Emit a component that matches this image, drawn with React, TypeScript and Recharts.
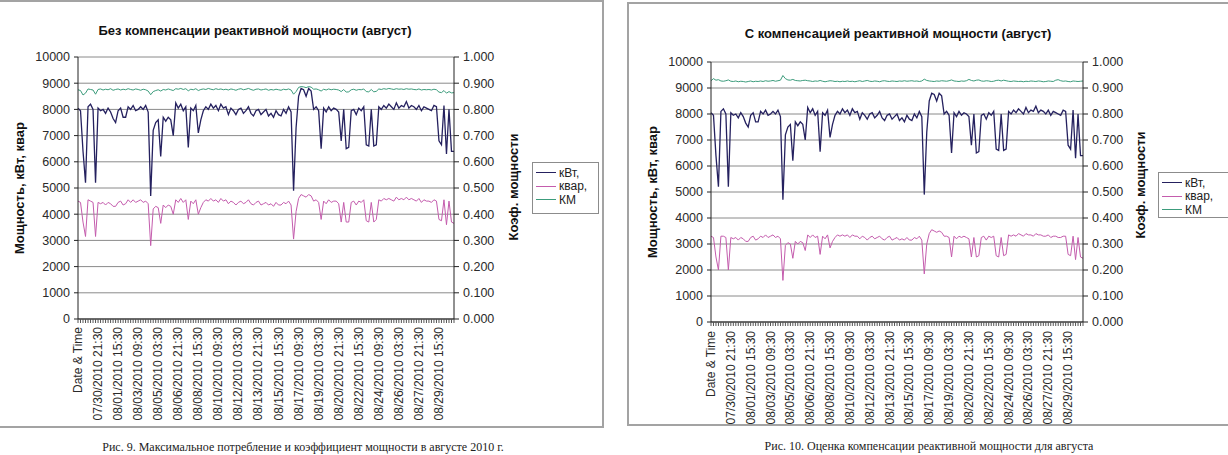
import React from 'react';
import { LineChart, Line, XAxis, YAxis, CartesianGrid } from 'recharts';

// date labels shown every STEP points on the category axis
const tickLabels = [
  'Date & Time', '07/30/2010 21:30', '08/01/2010 15:30', '08/03/2010 09:30', '08/05/2010 03:30',
  '08/06/2010 21:30', '08/08/2010 15:30', '08/10/2010 09:30', '08/12/2010 03:30', '08/13/2010 21:30',
  '08/15/2010 15:30', '08/17/2010 09:30', '08/19/2010 03:30', '08/20/2010 21:30', '08/22/2010 15:30',
  '08/24/2010 09:30', '08/26/2010 03:30', '08/27/2010 21:30', '08/29/2010 15:30',
];
const STEP = 8;

// active power, kW (same in both figures)
const kw = [
  8050, 7950, 6400, 5200, 8100, 8200, 8000, 5200, 8050, 7950,
  8000, 7850, 8050, 7900, 7650, 7500, 7950, 8050, 7700, 7700,
  8100, 8000, 8150, 7950, 8000, 8100, 8000, 8150, 7900, 4700,
  7200, 7500, 7600, 6200, 7700, 7550, 7700, 7600, 7000, 8250,
  8050, 8200, 7950, 8100, 6550, 8050, 7950, 8150, 7100, 7600,
  7950, 8100, 8000, 8200, 8050, 8150, 7950, 8200, 8050, 8100,
  7800, 8050, 7950, 7800, 8000, 8050, 7850, 7950, 8100, 7850,
  7750, 7950, 8000, 7800, 7900, 8000, 7750, 7850, 7700, 7950,
  7800, 7750, 8000, 7850, 8100, 7900, 4900, 7300, 8500, 8800,
  8750, 8500, 8800, 8700, 8000, 8100, 7950, 6500, 8050, 7900,
  8100, 7950, 8050, 8000, 7900, 6800, 8000, 6500, 6550, 7950,
  8000, 7800, 8050, 7950, 8100, 6650, 6600, 8000, 6600, 6650,
  8100, 8000, 8150, 8050, 8200, 8100, 8000, 8250, 8050, 8150,
  8100, 8300, 8050, 8150, 8100, 8000, 8150, 7950, 8100, 8050,
  8000, 7950, 8150, 8100, 6800, 6650, 8150, 6300, 8000, 6400,
  6400,
];

// reactive power without compensation, kvar
const kvarBefore = [
  4500, 4450, 3700, 3150, 4550, 4500, 4450, 3150, 4450, 4400,
  4450, 4350, 4450, 4400, 4300, 4300, 4450, 4500, 4350, 4400,
  4550, 4450, 4550, 4450, 4500, 4550, 4450, 4500, 4400, 2800,
  4200, 4300, 4250, 3650, 4350, 4250, 4350, 4300, 4000, 4550,
  4450, 4600, 4450, 4550, 3800, 4500, 4400, 4550, 4000, 4250,
  4450, 4550, 4500, 4600, 4500, 4550, 4450, 4600, 4500, 4550,
  4400, 4500, 4450, 4350, 4450, 4500, 4400, 4450, 4550, 4400,
  4350, 4450, 4500, 4350, 4400, 4450, 4350, 4400, 4300, 4450,
  4350, 4350, 4450, 4400, 4500, 4350, 3050, 4100, 4600, 4750,
  4700, 4650, 4750, 4700, 4500, 4550, 4450, 3800, 4500, 4400,
  4550, 4450, 4500, 4500, 4400, 3700, 4450, 3700, 3700, 4450,
  4500, 4350, 4500, 4450, 4550, 3750, 3700, 4450, 3700, 3800,
  4550, 4500, 4600, 4550, 4600, 4550, 4500, 4650, 4550, 4600,
  4550, 4650, 4550, 4600, 4550, 4500, 4600, 4450, 4550, 4500,
  4500, 4450, 4550, 4500, 3800, 3750, 4550, 3600, 4500, 3700,
  3650,
];

// power factor without compensation
const kmBefore = [
  0.875, 0.872, 0.855, 0.862, 0.878, 0.876, 0.874, 0.858, 0.876, 0.878,
  0.874, 0.877, 0.875, 0.879, 0.873, 0.876, 0.878, 0.874, 0.877, 0.875,
  0.879, 0.876, 0.874, 0.878, 0.876, 0.873, 0.877, 0.875, 0.870, 0.856,
  0.868, 0.872, 0.875, 0.870, 0.876, 0.874, 0.878, 0.875, 0.872, 0.879,
  0.877, 0.880, 0.876, 0.879, 0.871, 0.877, 0.875, 0.879, 0.872, 0.876,
  0.878, 0.876, 0.880, 0.877, 0.875, 0.879, 0.876, 0.878, 0.875, 0.877,
  0.874, 0.878, 0.876, 0.873, 0.877, 0.879, 0.875, 0.877, 0.880, 0.876,
  0.873, 0.877, 0.878, 0.874, 0.876, 0.878, 0.873, 0.876, 0.874, 0.877,
  0.875, 0.873, 0.877, 0.875, 0.878, 0.874, 0.858, 0.868, 0.884, 0.887,
  0.886, 0.883, 0.887, 0.885, 0.877, 0.878, 0.875, 0.870, 0.877, 0.874,
  0.878, 0.875, 0.877, 0.876, 0.874, 0.868, 0.876, 0.866, 0.867, 0.875,
  0.877, 0.873, 0.876, 0.875, 0.878, 0.868, 0.867, 0.876, 0.867, 0.869,
  0.878, 0.876, 0.879, 0.877, 0.880, 0.878, 0.876, 0.879, 0.877, 0.878,
  0.876, 0.879, 0.877, 0.878, 0.876, 0.875, 0.878, 0.874, 0.876, 0.875,
  0.876, 0.874, 0.877, 0.875, 0.866, 0.864, 0.872, 0.862, 0.868, 0.863,
  0.864,
];

// reactive power with compensation, kvar
const kvarAfter = [
  3300, 3250, 2500, 2000, 3300, 3300, 3250, 2000, 3250, 3200,
  3250, 3150, 3250, 3200, 3100, 3100, 3250, 3300, 3150, 3200,
  3300, 3250, 3350, 3250, 3300, 3350, 3250, 3300, 3200, 1600,
  2950, 3050, 3000, 2450, 3100, 3000, 3100, 3050, 2750, 3350,
  3250, 3350, 3250, 3300, 2600, 3300, 3200, 3350, 2850, 3100,
  3250, 3350, 3300, 3350, 3300, 3350, 3250, 3350, 3300, 3300,
  3200, 3300, 3250, 3150, 3250, 3300, 3200, 3250, 3300, 3200,
  3150, 3250, 3300, 3150, 3200, 3250, 3150, 3200, 3150, 3250,
  3150, 3150, 3250, 3200, 3300, 3150, 1850, 3000, 3400, 3550,
  3500, 3450, 3500, 3450, 3300, 3300, 3250, 2500, 3300, 3200,
  3300, 3250, 3300, 3250, 3200, 2500, 3250, 2500, 2550, 3250,
  3300, 3150, 3300, 3250, 3300, 2550, 2500, 3250, 2550, 2600,
  3350, 3300, 3350, 3300, 3400, 3350, 3300, 3400, 3350, 3350,
  3300, 3400, 3350, 3350, 3300, 3300, 3350, 3250, 3300, 3300,
  3250, 3250, 3300, 3300, 2600, 2550, 3300, 2400, 3250, 2500,
  2450,
];

// power factor with compensation
const kmAfter = [
  0.928, 0.936, 0.930, 0.932, 0.927, 0.926, 0.928, 0.931, 0.926, 0.925,
  0.927, 0.924, 0.926, 0.925, 0.923, 0.925, 0.927, 0.924, 0.926, 0.925,
  0.927, 0.925, 0.928, 0.926, 0.927, 0.929, 0.926, 0.928, 0.930, 0.948,
  0.936, 0.931, 0.930, 0.933, 0.929, 0.928, 0.927, 0.929, 0.930, 0.928,
  0.927, 0.925, 0.927, 0.926, 0.929, 0.926, 0.924, 0.926, 0.928, 0.927,
  0.925, 0.926, 0.924, 0.926, 0.925, 0.927, 0.925, 0.926, 0.924, 0.926,
  0.928, 0.925, 0.927, 0.929, 0.926, 0.925, 0.927, 0.926, 0.924, 0.927,
  0.928, 0.926, 0.925, 0.927, 0.926, 0.925, 0.927, 0.926, 0.928, 0.926,
  0.927, 0.928, 0.926, 0.927, 0.925, 0.927, 0.934, 0.929, 0.927, 0.926,
  0.925, 0.927, 0.926, 0.928, 0.927, 0.926, 0.928, 0.931, 0.927, 0.926,
  0.925, 0.927, 0.926, 0.928, 0.933, 0.929, 0.927, 0.930, 0.931, 0.927,
  0.926, 0.928, 0.927, 0.925, 0.926, 0.929, 0.930, 0.927, 0.930, 0.928,
  0.926, 0.925, 0.927, 0.926, 0.925, 0.926, 0.924, 0.926, 0.925, 0.927,
  0.926, 0.925, 0.927, 0.926, 0.924, 0.925, 0.927, 0.926, 0.925, 0.930,
  0.932, 0.928, 0.926, 0.927, 0.925, 0.924, 0.927, 0.926, 0.925, 0.926,
  0.927,
];

const powerTicks = [0, 1000, 2000, 3000, 4000, 5000, 6000, 7000, 8000, 9000, 10000];
const pfTicks = [0, 0.1, 0.2, 0.3, 0.4, 0.5, 0.6, 0.7, 0.8, 0.9, 1];

const SANS = '"Liberation Sans", Arial, sans-serif';
const SERIF = '"Liberation Serif", "Times New Roman", serif';

const series = [
  { key: 'kw', name: 'кВт,', color: '#25215f', width: 1.3 },
  { key: 'kvar', name: 'квар,', color: '#c45cad', width: 1 },
  { key: 'km', name: 'КМ', color: '#3c9c7c', width: 1 },
];

const allIdx = kw.map((_, i) => i);

const DateTick = (props: any) => {
  const { x, y, payload, shift } = props;
  const i = payload.value;
  if (i % STEP !== 0) return <g />;
  const ty = y + shift;
  return (
    <text
      x={x}
      y={ty}
      transform={`rotate(-90, ${x}, ${ty})`}
      textAnchor="end"
      dominantBaseline="central"
      fontSize={12}
      fontFamily={SANS}
      fill="#2a2a2a"
    >
      {tickLabels[i / STEP]}
    </text>
  );
};

const Vertical = ({ x, y, children, size = 13 }: any) => (
  <div
    style={{
      position: 'absolute', left: x, top: y, transform: 'translate(-50%, -50%) rotate(-90deg)',
      whiteSpace: 'nowrap', fontFamily: SANS, fontWeight: 'bold', fontSize: size, color: '#111',
    }}
  >
    {children}
  </div>
);

const LegendBox = ({ x, y, w, h }: any) => (
  <div
    style={{
      position: 'absolute', left: x, top: y, width: w, height: h, boxSizing: 'border-box',
      border: '1px solid #8c8c8c', background: '#fff', padding: '3px 0 0 3px',
      fontFamily: SANS, fontSize: 12, color: '#222',
    }}
  >
    {series.map((s) => (
      <div key={s.key} style={{ display: 'flex', alignItems: 'center', height: 13.5 }}>
        <span style={{ display: 'inline-block', width: 20, height: 0, borderTop: `1.5px solid ${s.color}`, marginRight: 3 }} />
        <span>{s.name}</span>
      </div>
    ))}
  </div>
);

const PowerChart = ({ cfg, kvar, km }: any) => {
  const data = kw.map((v, i) => ({ i, kw: v, kvar: kvar[i], km: km[i] }));
  return (
    <div style={{ position: 'absolute', left: cfg.left, top: cfg.top }}>
      <LineChart
        width={cfg.width}
        height={cfg.height}
        data={data}
        margin={{ top: cfg.mTop, right: 0, bottom: 0, left: 0 }}
      >
        <CartesianGrid yAxisId="p" vertical={false} stroke="#8a8a8a" strokeWidth={1} />
        <XAxis
          dataKey="i"
          type="number"
          domain={[0, kw.length - 1]}
          ticks={allIdx}
          interval={0}
          height={cfg.xH}
          tickSize={4}
          axisLine={{ stroke: '#111' }}
          tickLine={{ stroke: '#555' }}
          tick={<DateTick shift={cfg.shift} />}
        />
        <YAxis
          yAxisId="p"
          domain={[0, 10000]}
          ticks={powerTicks}
          width={cfg.lW}
          tickSize={4}
          tickMargin={4}
          axisLine={{ stroke: '#222' }}
          tickLine={{ stroke: '#222' }}
          tick={{ fontSize: 12.5, fill: '#2a2a2a', fontFamily: SANS }}
        />
        <YAxis
          yAxisId="f"
          orientation="right"
          domain={[0, 1]}
          ticks={pfTicks}
          width={cfg.rW}
          tickSize={5}
          tickMargin={4}
          axisLine={{ stroke: '#222' }}
          tickLine={{ stroke: '#222' }}
          tickFormatter={(v: number) => v.toFixed(3)}
          tick={{ fontSize: 12.5, fill: '#2a2a2a', fontFamily: SANS, textAnchor: 'start' }}
        />
        {series.map((s) => (
          <Line
            key={s.key}
            yAxisId={s.key === 'km' ? 'f' : 'p'}
            dataKey={s.key}
            name={s.name}
            stroke={s.color}
            strokeWidth={s.width}
            dot={false}
            type="linear"
            isAnimationActive={false}
          />
        ))}
      </LineChart>
    </div>
  );
};

const leftCfg = { left: 0, top: 0, width: 604, height: 427, mTop: 57, lW: 78, rW: 150, xH: 108, shift: 2 };
const rightCfg = { left: 628, top: 3, width: 600, height: 421, mTop: 59, lW: 83, rW: 145, xH: 102, shift: 3 };

const titleStyle: React.CSSProperties = {
  position: 'absolute', transform: 'translate(-50%, -50%)', whiteSpace: 'nowrap',
  fontFamily: SANS, fontWeight: 'bold', fontSize: 13, color: '#111',
};
const captionStyle: React.CSSProperties = {
  position: 'absolute', transform: 'translate(-50%, -50%)', whiteSpace: 'nowrap',
  fontFamily: SERIF, fontSize: 12, color: '#222',
};

export default function App() {
  return (
    <div style={{ position: 'absolute', left: 0, top: 0, width: 1228, height: 455, background: '#fff', overflow: 'hidden' }}>
      {/* frames */}
      <div style={{ position: 'absolute', left: -2, top: 0, width: 606, height: 428, border: '2px solid #a3a3a3', boxSizing: 'border-box' }} />
      <div style={{ position: 'absolute', left: 627, top: 2, width: 700, height: 424, border: '2px solid #a3a3a3', boxSizing: 'border-box' }} />

      <PowerChart cfg={leftCfg} kvar={kvarBefore} km={kmBefore} />
      <PowerChart cfg={rightCfg} kvar={kvarAfter} km={kmAfter} />

      <div style={{ ...titleStyle, left: 255, top: 30 }}>Без компенсации реактивной мощности (август)</div>
      <div style={{ ...titleStyle, left: 898, top: 33 }}>С компенсацией реактивной мощности (август)</div>

      <Vertical x={19} y={188}>Мощность, кВт, квар</Vertical>
      <Vertical x={513} y={187}>Коэф. мощности</Vertical>
      <Vertical x={652} y={192}>Мощность, кВт, квар</Vertical>
      <Vertical x={1140} y={185}>Коэф. мощности</Vertical>

      <LegendBox x={532} y={162} w={67} h={52} />
      <LegendBox x={1158} y={172} w={80} h={46} />

      <div style={{ ...captionStyle, left: 303, top: 447 }}>Рис. 9. Максимальное потребление и коэффициент мощности в августе 2010 г.</div>
      <div style={{ ...captionStyle, left: 929, top: 446 }}>Рис. 10. Оценка компенсации реактивной мощности для августа</div>
    </div>
  );
}
